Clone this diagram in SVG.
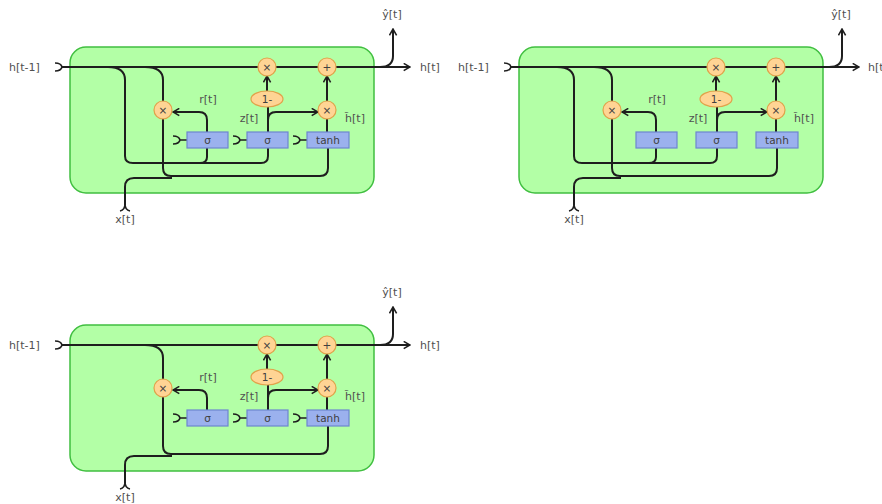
<svg xmlns="http://www.w3.org/2000/svg" width="882" height="504" viewBox="0 0 882 504">
<defs>
<marker id="arr" viewBox="0 0 10 10" refX="9" refY="5" markerWidth="9" markerHeight="9" markerUnits="userSpaceOnUse" orient="auto">
<path d="M2,1 L9,5 L2,9" fill="none" stroke="#1e1e1e" stroke-width="1.7"/>
</marker>
</defs>
<style>
.cell{fill:#b3ffa6;stroke:#40bf40;stroke-width:1.5}
.ln{fill:none;stroke:#1e1e1e;stroke-width:2}
.fk{fill:none;stroke:#1e1e1e;stroke-width:1.6}
.op{fill:#ffd494;stroke:#e0a24a;stroke-width:1.2}
.bx{fill:#9bb1ee;stroke:#6d86cf;stroke-width:1.2}
.t{font-family:"DejaVu Sans",sans-serif;font-size:11px;fill:#505050}
.ts{font-family:"DejaVu Sans",sans-serif;font-size:10.5px;fill:#404040;text-anchor:middle}
.m{text-anchor:middle}
</style>

<!-- Diagram 1 -->
<g id="d1">
<rect id="d1-cell" class="cell" x="70" y="47" width="304" height="146" rx="16"/>
<g id="d1-connectors">
<path class="ln" d="M62,67 H410" marker-end="url(#arr)"/>
<path class="fk" d="M55,63 Q61,63 62,67 Q61,71 55,71"/>
<path class="ln" d="M380,67 Q393,67 393,56 V29" marker-end="url(#arr)"/>
<path class="ln" d="M108,67 Q125,67 125,80 V156 Q125,163 133,163 H261 Q268,163 268,156 V148"/>
<path class="ln" d="M207,148 V157 Q207,163 200,163"/>
<path class="ln" d="M145,67 Q163,67 163,80 V102"/>
<path class="ln" d="M163,118 V168 Q163,176 171,176 H320 Q328,176 328,168 V148"/>
<path class="ln" d="M125,205 V187 Q125,178 134,178 H172"/>
<path class="fk" d="M120,211 Q125,210 125,204 Q125,210 130,211"/>
<path class="ln" d="M207,132 V120 Q207,112 199,112 H173" marker-end="url(#arr)"/>
<path class="ln" d="M268,132 V120 Q268,112 276,112 H318" marker-end="url(#arr)"/>
<path class="ln" d="M268,132 V107"/>
<path class="ln" d="M267,91 V76" marker-end="url(#arr)"/>
<path class="ln" d="M327,132 V119"/>
<path class="ln" d="M327,101 V76" marker-end="url(#arr)"/>
<path class="fk" d="M173,136 Q179,136 180,140 Q179,144 173,144 M180,140 H187"/>
<path class="fk" d="M233,136 Q239,136 240,140 Q239,144 233,144 M240,140 H247"/>
<path class="fk" d="M293,136 Q299,136 300,140 Q299,144 293,144 M300,140 H307"/>
</g>
<g id="d1-mul1"><circle class="op" cx="267" cy="67" r="9"/><text class="ts" x="267" y="71">×</text></g>
<g id="d1-add"><circle class="op" cx="327" cy="67" r="9"/><text class="ts" x="327" y="71">+</text></g>
<g id="d1-mulr"><circle class="op" cx="163" cy="110" r="9"/><text class="ts" x="163" y="114">×</text></g>
<g id="d1-mulh"><circle class="op" cx="327" cy="110" r="9"/><text class="ts" x="327" y="114">×</text></g>
<g id="d1-oneminus"><ellipse class="op" cx="267" cy="99" rx="16" ry="8"/><text class="ts" x="267" y="103">1-</text></g>
<g id="d1-sig1"><rect class="bx" x="187" y="132" width="41" height="16"/><text class="ts" x="207.5" y="144">σ</text></g>
<g id="d1-sig2"><rect class="bx" x="247" y="132" width="41" height="16"/><text class="ts" x="267.5" y="144">σ</text></g>
<g id="d1-tanh"><rect class="bx" x="307" y="132" width="42" height="16"/><text class="ts" x="328" y="144">tanh</text></g>
<text class="t" x="9" y="71">h[t-1]</text>
<text class="t" x="420" y="71">h[t]</text>
<text class="t m" x="392" y="18">ŷ[t]</text>
<text class="t m" x="125" y="223">x[t]</text>
<text class="t m" x="208" y="103">r[t]</text>
<text class="t m" x="249" y="122">z[t]</text>
<text class="t m" x="355" y="122">h̃[t]</text>
</g>

<!-- Diagram 2 -->
<g id="d2" transform="translate(449,0)">
<rect id="d2-cell" class="cell" x="70" y="47" width="304" height="146" rx="16"/>
<g id="d2-connectors">
<path class="ln" d="M62,67 H410" marker-end="url(#arr)"/>
<path class="fk" d="M55,63 Q61,63 62,67 Q61,71 55,71"/>
<path class="ln" d="M380,67 Q393,67 393,56 V29" marker-end="url(#arr)"/>
<path class="ln" d="M108,67 Q125,67 125,80 V156 Q125,163 133,163 H261 Q268,163 268,156 V148"/>
<path class="ln" d="M207,148 V157 Q207,163 200,163"/>
<path class="ln" d="M145,67 Q163,67 163,80 V102"/>
<path class="ln" d="M163,118 V168 Q163,176 171,176 H320 Q328,176 328,168 V148"/>
<path class="ln" d="M125,205 V187 Q125,178 134,178 H172"/>
<path class="fk" d="M120,211 Q125,210 125,204 Q125,210 130,211"/>
<path class="ln" d="M207,132 V120 Q207,112 199,112 H173" marker-end="url(#arr)"/>
<path class="ln" d="M268,132 V120 Q268,112 276,112 H318" marker-end="url(#arr)"/>
<path class="ln" d="M268,132 V107"/>
<path class="ln" d="M267,91 V76" marker-end="url(#arr)"/>
<path class="ln" d="M327,132 V119"/>
<path class="ln" d="M327,101 V76" marker-end="url(#arr)"/>
</g>
<g id="d2-mul1"><circle class="op" cx="267" cy="67" r="9"/><text class="ts" x="267" y="71">×</text></g>
<g id="d2-add"><circle class="op" cx="327" cy="67" r="9"/><text class="ts" x="327" y="71">+</text></g>
<g id="d2-mulr"><circle class="op" cx="163" cy="110" r="9"/><text class="ts" x="163" y="114">×</text></g>
<g id="d2-mulh"><circle class="op" cx="327" cy="110" r="9"/><text class="ts" x="327" y="114">×</text></g>
<g id="d2-oneminus"><ellipse class="op" cx="267" cy="99" rx="16" ry="8"/><text class="ts" x="267" y="103">1-</text></g>
<g id="d2-sig1"><rect class="bx" x="187" y="132" width="41" height="16"/><text class="ts" x="207.5" y="144">σ</text></g>
<g id="d2-sig2"><rect class="bx" x="247" y="132" width="41" height="16"/><text class="ts" x="267.5" y="144">σ</text></g>
<g id="d2-tanh"><rect class="bx" x="307" y="132" width="42" height="16"/><text class="ts" x="328" y="144">tanh</text></g>
<text class="t" x="9" y="71">h[t-1]</text>
<text class="t" x="419" y="71">h[t]</text>
<text class="t m" x="392" y="18">ŷ[t]</text>
<text class="t m" x="125" y="223">x[t]</text>
<text class="t m" x="208" y="103">r[t]</text>
<text class="t m" x="249" y="122">z[t]</text>
<text class="t m" x="355" y="122">h̃[t]</text>
</g>

<!-- Diagram 3 -->
<g id="d3" transform="translate(0,278)">
<rect id="d3-cell" class="cell" x="70" y="47" width="304" height="146" rx="16"/>
<g id="d3-connectors">
<path class="ln" d="M62,67 H410" marker-end="url(#arr)"/>
<path class="fk" d="M55,63 Q61,63 62,67 Q61,71 55,71"/>
<path class="ln" d="M380,67 Q393,67 393,56 V29" marker-end="url(#arr)"/>
<path class="ln" d="M145,67 Q163,67 163,80 V102"/>
<path class="ln" d="M163,118 V168 Q163,176 171,176 H320 Q328,176 328,168 V148"/>
<path class="ln" d="M125,205 V187 Q125,178 134,178 H172"/>
<path class="fk" d="M120,211 Q125,210 125,204 Q125,210 130,211"/>
<path class="ln" d="M207,132 V120 Q207,112 199,112 H173" marker-end="url(#arr)"/>
<path class="ln" d="M268,132 V120 Q268,112 276,112 H318" marker-end="url(#arr)"/>
<path class="ln" d="M268,132 V107"/>
<path class="ln" d="M267,91 V76" marker-end="url(#arr)"/>
<path class="ln" d="M327,132 V119"/>
<path class="ln" d="M327,101 V76" marker-end="url(#arr)"/>
<path class="fk" d="M173,136 Q179,136 180,140 Q179,144 173,144 M180,140 H187"/>
<path class="fk" d="M233,136 Q239,136 240,140 Q239,144 233,144 M240,140 H247"/>
<path class="fk" d="M293,136 Q299,136 300,140 Q299,144 293,144 M300,140 H307"/>
</g>
<g id="d3-mul1"><circle class="op" cx="267" cy="67" r="9"/><text class="ts" x="267" y="71">×</text></g>
<g id="d3-add"><circle class="op" cx="327" cy="67" r="9"/><text class="ts" x="327" y="71">+</text></g>
<g id="d3-mulr"><circle class="op" cx="163" cy="110" r="9"/><text class="ts" x="163" y="114">×</text></g>
<g id="d3-mulh"><circle class="op" cx="327" cy="110" r="9"/><text class="ts" x="327" y="114">×</text></g>
<g id="d3-oneminus"><ellipse class="op" cx="267" cy="99" rx="16" ry="8"/><text class="ts" x="267" y="103">1-</text></g>
<g id="d3-sig1"><rect class="bx" x="187" y="132" width="41" height="16"/><text class="ts" x="207.5" y="144">σ</text></g>
<g id="d3-sig2"><rect class="bx" x="247" y="132" width="41" height="16"/><text class="ts" x="267.5" y="144">σ</text></g>
<g id="d3-tanh"><rect class="bx" x="307" y="132" width="42" height="16"/><text class="ts" x="328" y="144">tanh</text></g>
<text class="t" x="9" y="71">h[t-1]</text>
<text class="t" x="420" y="71">h[t]</text>
<text class="t m" x="392" y="18">ŷ[t]</text>
<text class="t m" x="125" y="223">x[t]</text>
<text class="t m" x="208" y="103">r[t]</text>
<text class="t m" x="249" y="122">z[t]</text>
<text class="t m" x="355" y="122">h̃[t]</text>
</g>
</svg>
